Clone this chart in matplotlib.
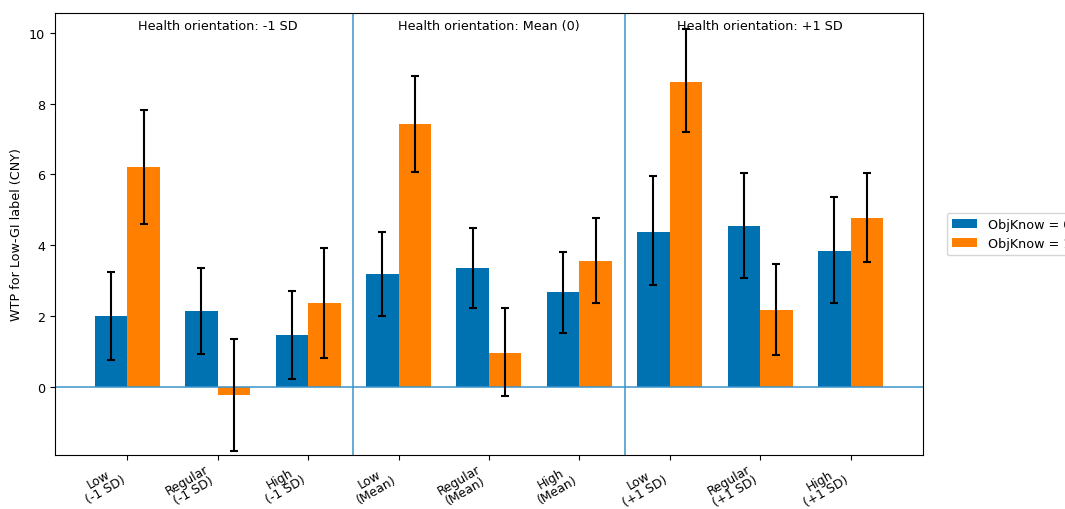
import matplotlib
matplotlib.use("Agg")
import matplotlib.pyplot as plt
import numpy as np

categories = ["Low\n(-1 SD)", "Regular\n(-1 SD)", "High\n(-1 SD)",
              "Low\n(Mean)", "Regular\n(Mean)", "High\n(Mean)",
              "Low\n(+1 SD)", "Regular\n(+1 SD)", "High\n(+1 SD)"]
panel_titles = ["Health orientation: -1 SD", "Health orientation: Mean (0)", "Health orientation: +1 SD"]

obj0_mean = [2.00, 2.15, 1.47, 3.20, 3.37, 2.67, 4.38, 4.55, 3.85]
obj0_low = [0.75, 0.93, 0.23, 2.00, 2.22, 1.53, 2.87, 3.08, 2.38]
obj0_high = [3.25, 3.37, 2.70, 4.38, 4.48, 3.82, 5.96, 6.05, 5.37]

obj1_mean = [6.20, -0.22, 2.38, 7.42, 0.97, 3.57, 8.62, 2.18, 4.78]
obj1_low = [4.60, -1.80, 0.83, 6.08, -0.25, 2.38, 7.20, 0.91, 3.52]
obj1_high = [7.83, 1.36, 3.92, 8.77, 2.22, 4.78, 10.10, 3.48, 6.05]

blue = "#0072B2"
orange = "#FF7F00"
line_blue = "#3C94CC"
fs = 9.2

fig = plt.figure(figsize=(10.65, 5.10), dpi=100)
ax = fig.add_axes([0.0516, 0.106, 0.8150, 0.8666])

x = np.arange(len(categories))
w = 0.36

m0 = np.array(obj0_mean); m1 = np.array(obj1_mean)
err0 = [m0 - np.array(obj0_low), np.array(obj0_high) - m0]
err1 = [m1 - np.array(obj1_low), np.array(obj1_high) - m1]

ax.bar(x - w/2, m0, w, color=blue, edgecolor="none", label="ObjKnow = 0", zorder=2)
ax.bar(x + w/2, m1, w, color=orange, edgecolor="none", label="ObjKnow = 1", zorder=2)
ax.errorbar(x - w/2, m0, yerr=err0, fmt="none", ecolor="black", elinewidth=1.5, capsize=3, capthick=1.5, zorder=3)
ax.errorbar(x + w/2, m1, yerr=err1, fmt="none", ecolor="black", elinewidth=1.5, capsize=3, capthick=1.5, zorder=3)

ax.axhline(0, color=line_blue, linewidth=1.1, zorder=2.5)
for b in [2.5, 5.5]:
    ax.axvline(b, color=line_blue, linewidth=1.1, zorder=1)

for i, t in enumerate(panel_titles):
    ax.text(1 + 3 * i, 10.2, t, ha="center", va="center", fontsize=fs)

ax.set_xlim(-0.8, 8.8)
ax.set_ylim(-1.92, 10.56)
ax.set_yticks([0, 2, 4, 6, 8, 10])
ax.set_xticks(x)
ax.set_xticklabels(categories, rotation=30, ha="right", fontsize=8.9,
                   linespacing=1.0, multialignment="center")
ax.tick_params(axis="x", pad=1.5)
ax.tick_params(axis="y", labelsize=fs)
ax.set_ylabel("WTP for Low-GI label (CNY)", fontsize=fs)

ax.legend(loc="center left", bbox_to_anchor=(1.02, 0.5), fontsize=fs)

fig.savefig("out.png", dpi=100)
